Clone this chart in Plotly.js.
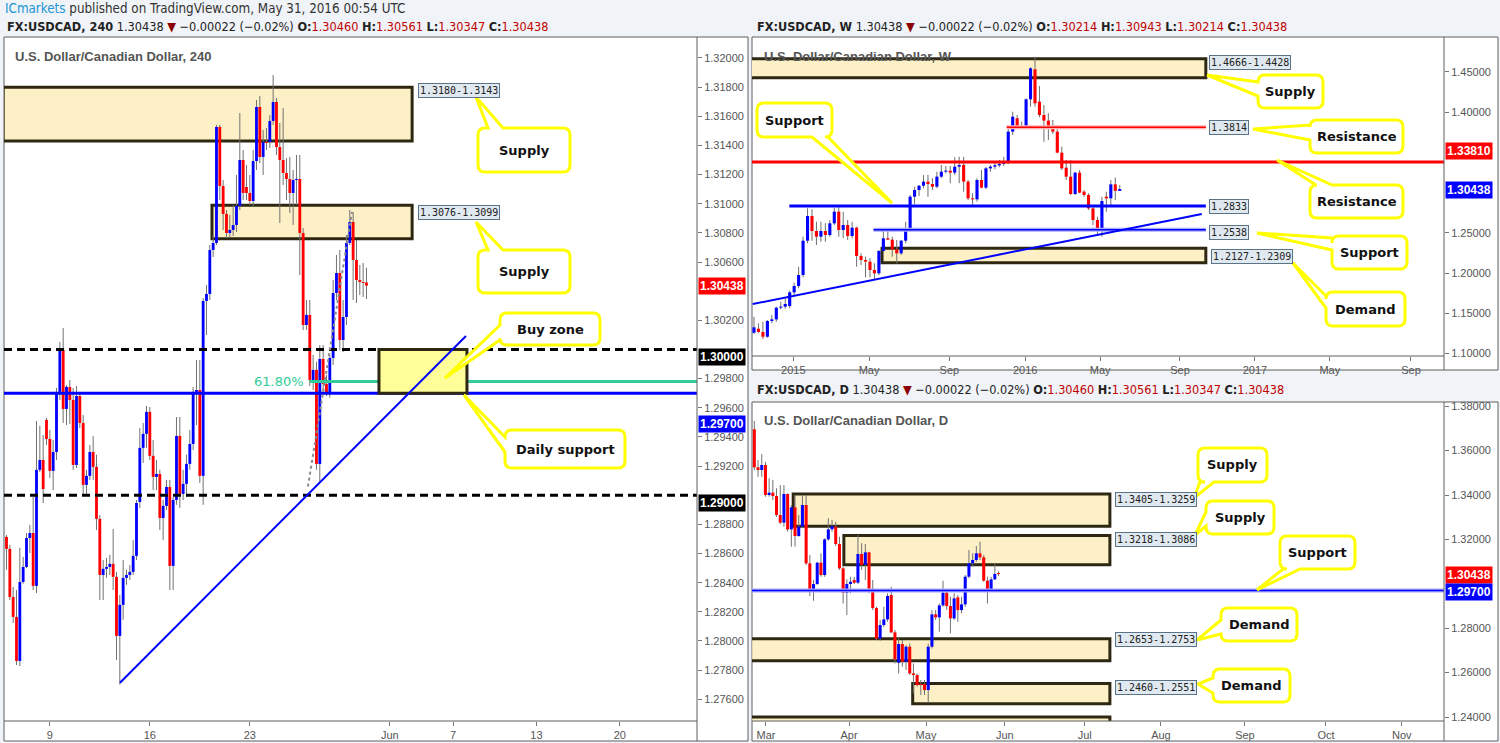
<!DOCTYPE html>
<html><head><meta charset="utf-8">
<script src="https://cdn.plot.ly/plotly-3.0.1.min.js"></script>
<style>html,body{margin:0;padding:0;background:#f0f3f7;}#chart{width:1500px;height:743px;}</style>
</head><body><div id="chart"></div>
<script>
// ---------- 4H (240) USDCAD candles ----------
const h4Open=[1.28714,1.28632,1.28302,1.28165,1.27863,1.28405,1.28508,1.28707,1.28741,1.28378,1.29174,1.29242,1.29517,1.29386,1.29167,1.29297,1.29709,1.29997,1.29592,1.29743,1.29654,1.29208,1.29681,1.29496,1.29071,1.29133,1.29297,1.29194,1.28838,1.28453,1.28495,1.28508,1.28529,1.28440,1.28035,1.28248,1.28433,1.28453,1.28474,1.28584,1.28954,1.29325,1.29421,1.29572,1.29270,1.29126,1.29146,1.28844,1.28927,1.29057,1.28515,1.28968,1.29407,1.29009,1.29078,1.29215,1.29352,1.29709,1.29722,1.29133,1.30333,1.30381,1.30683,1.30731,1.31527,1.31122,1.30930,1.30799,1.30820,1.30854,1.30985,1.31300,1.31115,1.31074,1.31019,1.31293,1.31664,1.31321,1.31424,1.31424,1.31568,1.31698,1.31389,1.31300,1.31211,1.31170,1.31074,1.31163,1.31170,1.30799,1.30168,1.30237,1.29791,1.29860,1.29215,1.29935,1.29764,1.29702,1.29942,1.30388,1.30525,1.30065,1.30223,1.30731,1.30875,1.30614,1.30477,1.30463,1.30460];
const h4High=[1.28728,1.28659,1.28371,1.28350,1.28639,1.28577,1.28741,1.28796,1.28988,1.29510,1.29476,1.29414,1.29530,1.29448,1.29379,1.29736,1.30052,1.30148,1.29757,1.29791,1.29736,1.29750,1.29700,1.29551,1.29174,1.29345,1.29407,1.29277,1.28865,1.28556,1.28570,1.28591,1.28769,1.28474,1.28316,1.28556,1.28488,1.28522,1.28693,1.28968,1.29462,1.29496,1.29613,1.29606,1.29379,1.29242,1.29174,1.28968,1.29105,1.29105,1.28988,1.29537,1.29537,1.29174,1.29277,1.29448,1.29743,1.29928,1.29928,1.30354,1.30443,1.30717,1.30786,1.31540,1.31540,1.31163,1.30957,1.30923,1.30992,1.31197,1.31623,1.31369,1.31266,1.31197,1.31369,1.31712,1.31739,1.31506,1.31520,1.31609,1.31883,1.31726,1.31554,1.31657,1.31314,1.31321,1.31232,1.31335,1.31335,1.30834,1.30340,1.30340,1.29963,1.29915,1.30031,1.30031,1.29825,1.29963,1.30477,1.30649,1.30683,1.30340,1.30786,1.30957,1.30944,1.30751,1.30580,1.30594,1.30561];
const h4Low=[1.28488,1.28282,1.28124,1.27836,1.27829,1.28392,1.28501,1.28604,1.28350,1.28330,1.29160,1.28947,1.29345,1.29119,1.29036,1.29242,1.29654,1.29496,1.29482,1.29489,1.29174,1.29187,1.29462,1.29002,1.28995,1.29105,1.29105,1.28762,1.28282,1.28282,1.28433,1.28453,1.28350,1.27870,1.27699,1.28145,1.28385,1.28419,1.28453,1.28556,1.28913,1.29222,1.29325,1.29242,1.29036,1.29036,1.28762,1.28693,1.28899,1.28350,1.28350,1.28934,1.28913,1.28968,1.28988,1.29174,1.29311,1.29482,1.29084,1.28934,1.30100,1.30340,1.30635,1.30717,1.31026,1.30820,1.30765,1.30765,1.30779,1.30806,1.30957,1.31026,1.31026,1.30992,1.30985,1.31232,1.31280,1.31197,1.31369,1.31383,1.31540,1.31335,1.30868,1.31129,1.31026,1.30937,1.30854,1.30992,1.30511,1.30134,1.30134,1.29750,1.29722,1.29174,1.29091,1.29688,1.29681,1.29668,1.29894,1.30340,1.29997,1.29983,1.30168,1.30717,1.30340,1.30319,1.30374,1.30360,1.30347];
const h4Close=[1.28632,1.28302,1.28165,1.27863,1.28405,1.28508,1.28707,1.28741,1.28378,1.29174,1.29242,1.29043,1.29386,1.29167,1.29297,1.29709,1.29997,1.29592,1.29743,1.29654,1.29208,1.29681,1.29496,1.29071,1.29133,1.29297,1.29194,1.28838,1.28453,1.28495,1.28508,1.28529,1.28440,1.28035,1.28248,1.28433,1.28453,1.28474,1.28584,1.28947,1.29325,1.29421,1.29572,1.29270,1.29126,1.29146,1.28844,1.28927,1.29057,1.28515,1.28968,1.29407,1.29009,1.29078,1.29215,1.29352,1.29709,1.29722,1.29133,1.30333,1.30381,1.30683,1.30731,1.31527,1.31122,1.30930,1.30799,1.30820,1.30854,1.30985,1.31300,1.31074,1.31074,1.31019,1.31293,1.31664,1.31321,1.31424,1.31417,1.31568,1.31698,1.31389,1.31300,1.31211,1.31170,1.31074,1.31163,1.31170,1.30799,1.30168,1.30237,1.29791,1.29860,1.29215,1.29935,1.29764,1.29702,1.29942,1.30388,1.30525,1.30065,1.30223,1.30731,1.30875,1.30614,1.30477,1.30463,1.30456,1.30438];
const h4TickText=['9','16','23','Jun','7','13','20'];
const h4TickBar=[13,43,73,115,134,159,184];
const h4Supply1=[1.3143,1.3180], h4Supply2=[1.3076,1.3099], h4BuyZone=[1.2970,1.3000];
const h4Psych=[1.3000,1.2900], h4DailySupport=1.2970;
const h4Trend=[1.27713,1.30093];          // trend line start/end price
const h4FibLeg=[1.2906,1.30944];          // swing low / swing high
const fibRatio=0.618;

// ---------- Weekly candles ----------
const wOpen=[1.12578,1.13076,1.12661,1.12080,1.14029,1.14236,1.15687,1.15812,1.15895,1.17595,1.18383,1.19751,1.24021,1.27089,1.25224,1.24519,1.25224,1.24726,1.26177,1.27628,1.25348,1.25970,1.24602,1.25638,1.22114,1.21617,1.21409,1.20373,1.19958,1.22736,1.24312,1.24150,1.22943,1.22446,1.24021,1.25555,1.29494,1.30323,1.30862,1.31360,1.31069,1.30738,1.31982,1.32604,1.32728,1.32479,1.33225,1.33433,1.31360,1.29287,1.29162,1.31567,1.30614,1.33018,1.33225,1.33391,1.33557,1.33723,1.37579,1.39237,1.38283,1.38118,1.41600,1.45332,1.41310,1.39652,1.38947,1.38283,1.37579,1.34967,1.33101,1.31982,1.29826,1.32479,1.30116,1.29701,1.28043,1.26592,1.25431,1.29494,1.29287,1.31028,1.30214];
const wHigh=[1.14568,1.13739,1.13946,1.14153,1.14775,1.15812,1.16434,1.16849,1.17802,1.18797,1.20787,1.24519,1.28043,1.27918,1.26385,1.26385,1.26177,1.26592,1.28126,1.28333,1.27628,1.26592,1.26385,1.25763,1.22446,1.22031,1.21824,1.21202,1.22860,1.25431,1.25431,1.24519,1.24104,1.24104,1.26385,1.29701,1.30738,1.30945,1.32189,1.32189,1.31774,1.32604,1.33433,1.33308,1.33308,1.34386,1.34469,1.34469,1.31567,1.29909,1.31774,1.32811,1.33225,1.33433,1.33723,1.34055,1.34469,1.38118,1.40066,1.39652,1.38822,1.41725,1.45580,1.46907,1.43259,1.40895,1.39859,1.39030,1.38408,1.35713,1.34055,1.34055,1.32604,1.32811,1.30323,1.29909,1.28457,1.27006,1.29494,1.30116,1.31567,1.31880,1.30943];
const wLow=[1.12412,1.12495,1.11790,1.11956,1.13739,1.13946,1.15480,1.15563,1.15604,1.17263,1.18093,1.19460,1.23690,1.24021,1.23482,1.23897,1.23897,1.24519,1.25970,1.24519,1.24312,1.24104,1.24312,1.20787,1.20995,1.19460,1.19460,1.19212,1.19751,1.22446,1.24104,1.22031,1.21202,1.22239,1.23690,1.25348,1.28582,1.29577,1.30530,1.29494,1.30323,1.30530,1.31774,1.32396,1.31153,1.32189,1.31153,1.30116,1.29079,1.28333,1.28872,1.30530,1.30447,1.32604,1.32894,1.33142,1.33308,1.33557,1.37164,1.38118,1.37993,1.37993,1.40688,1.40688,1.39361,1.36335,1.36542,1.37288,1.34884,1.32811,1.31567,1.29701,1.29701,1.29909,1.29494,1.27835,1.25970,1.24726,1.24519,1.27628,1.28457,1.29079,1.30214];
const wClose=[1.13242,1.12661,1.12080,1.14029,1.14236,1.15687,1.15812,1.16144,1.17595,1.18383,1.19751,1.24021,1.27089,1.25224,1.24519,1.25224,1.24726,1.26177,1.27628,1.25348,1.25970,1.24602,1.25638,1.22114,1.21617,1.21409,1.20373,1.19958,1.22736,1.24312,1.24150,1.22943,1.22446,1.24021,1.25555,1.29494,1.30323,1.30862,1.31360,1.31069,1.30738,1.31982,1.32604,1.32728,1.32479,1.33225,1.33433,1.31360,1.29287,1.29162,1.31567,1.30614,1.33018,1.33225,1.33391,1.33557,1.33723,1.37579,1.39444,1.38283,1.38118,1.41600,1.45456,1.41103,1.39652,1.38947,1.38283,1.37579,1.34967,1.33018,1.31982,1.29826,1.32479,1.29991,1.29701,1.28043,1.26592,1.25431,1.28955,1.29287,1.31028,1.30214,1.30438];
const wTickText=['2015','May','Sep','2016','May','Sep','2017','May','Sep'];
const wTickBar=[8.82,25.8,43.8,60.8,77.6,95.5,112.3,129.1,147.3];
const wSupply=[1.4428,1.4666], wDemand=[1.2127,1.2309];
const wResistance1=1.3814, wResistance2=1.3381, wSupport1=1.2833, wSupport2=1.2538;
const wTrend=[1.1614,1.2734];

// ---------- Daily candles ----------
const dOpen=[1.36959,1.35247,1.35127,1.35352,1.34000,1.34105,1.33955,1.33099,1.32753,1.34045,1.32453,1.33444,1.32153,1.32573,1.33549,1.30921,1.29689,1.29990,1.30951,1.30395,1.32002,1.32453,1.32573,1.31792,1.30696,1.29599,1.29990,1.30170,1.30050,1.31342,1.30846,1.31417,1.29779,1.28908,1.27527,1.28142,1.28398,1.29494,1.27812,1.26445,1.27286,1.26490,1.27166,1.25964,1.25889,1.25484,1.25484,1.25213,1.27166,1.28623,1.28488,1.29028,1.29599,1.28998,1.28443,1.29389,1.28818,1.29073,1.30320,1.30921,1.31071,1.31372,1.31191,1.30140,1.29719,1.30200,1.30460];
const dHigh=[1.37334,1.35577,1.35847,1.35502,1.34751,1.34676,1.34300,1.34451,1.34451,1.34075,1.33549,1.34000,1.33099,1.34000,1.34000,1.31296,1.30170,1.30996,1.31372,1.32047,1.32949,1.32874,1.32798,1.32123,1.30771,1.30200,1.30320,1.30320,1.32198,1.31822,1.31792,1.31447,1.30170,1.28968,1.28368,1.28968,1.29569,1.29870,1.27917,1.27542,1.27467,1.27241,1.27316,1.26415,1.25964,1.25664,1.25664,1.27316,1.28818,1.28818,1.29118,1.30140,1.29719,1.29419,1.29569,1.29494,1.29419,1.30395,1.31522,1.31372,1.31702,1.31897,1.31296,1.30320,1.30320,1.30921,1.30561];
const dLow=[1.35127,1.34826,1.34826,1.33925,1.33925,1.33775,1.33024,1.32693,1.32573,1.32348,1.31672,1.31672,1.32123,1.32498,1.30846,1.29449,1.29239,1.29945,1.30320,1.30320,1.31942,1.32348,1.31702,1.30620,1.29118,1.28593,1.29569,1.29990,1.29990,1.30620,1.30170,1.29569,1.28818,1.27467,1.27436,1.28067,1.28292,1.27767,1.26415,1.25964,1.26265,1.26115,1.25889,1.25063,1.25364,1.24988,1.24988,1.24642,1.27091,1.28368,1.27842,1.28968,1.28818,1.27767,1.28368,1.28292,1.28668,1.28968,1.30245,1.30771,1.30996,1.31071,1.30095,1.29118,1.29689,1.30170,1.30347];
const dClose=[1.35247,1.35127,1.35352,1.34000,1.34105,1.33955,1.33099,1.32753,1.34045,1.32453,1.33444,1.32153,1.32573,1.33549,1.30921,1.29689,1.29990,1.30951,1.30395,1.32002,1.32453,1.32603,1.31792,1.30696,1.29599,1.29990,1.30095,1.30050,1.31342,1.30846,1.31417,1.29779,1.28908,1.27527,1.28142,1.28398,1.29449,1.27812,1.26595,1.27286,1.26490,1.27166,1.25964,1.25889,1.25439,1.25439,1.25213,1.27166,1.28623,1.28488,1.29028,1.29599,1.28998,1.28443,1.29344,1.28818,1.29073,1.30320,1.30921,1.31071,1.31372,1.31191,1.30140,1.29719,1.30200,1.30440,1.30438];
const dTickText=['Mar','Apr','May','Jun','Jul','Aug','Sep','Oct','Nov'];
const dTickBar=[3.15,25.6,46.4,67.7,89.3,109.9,132.6,154.5,175.0];
const dSupply1=[1.3259,1.3405], dSupply2=[1.3086,1.3218], dDemand1=[1.2653,1.2753], dDemand2=[1.2460,1.2551], dDemand3=[1.2300,1.2400];
const dSupport=1.2970;
const lastPrice=1.30438;

// ---------- drawing ----------
const W=1500,H=743;
const P=x=>x/W, Q=y=>1-y/H;
const BASE='Liberation Sans, Arial, sans-serif';

function candles(o,h,l,c,xa,ya,bw,ww,minH){
  const idx=o.map((_,i)=>i);
  const up=idx.filter(i=>c[i]>=o[i]), dn=idx.filter(i=>c[i]<o[i]);
  const body=(ids,col)=>({type:'bar',x:ids,base:ids.map(i=>Math.min(o[i],c[i])),
    y:ids.map(i=>Math.max(Math.abs(c[i]-o[i]),minH)),width:bw,
    marker:{color:col,line:{width:0}},xaxis:xa,yaxis:ya,hoverinfo:'skip'});
  return [{type:'bar',x:idx,base:l,y:idx.map(i=>h[i]-l[i]),width:ww,
    marker:{color:'#727272',line:{width:0}},xaxis:xa,yaxis:ya,hoverinfo:'skip'},
    body(up,'#0000ff'),body(dn,'#ff0000')];
}
const data=[].concat(
  candles(h4Open,h4High,h4Low,h4Close,'x','y',0.85,0.3,0.00007),
  candles(wOpen,wHigh,wLow,wClose,'x2','y2',0.7,0.23,0.0013),
  candles(dOpen,dHigh,dLow,dClose,'x3','y3',0.82,0.27,0.00045)
);

// price-axis ticks (values hidden behind price tags are left out, as in the reference)
function priceTicks(lo,hi,step,hidden){const v=[];for(let k=0;lo+k*step<=hi+1e-9;k++){const p=+(lo+k*step).toFixed(5);if(!hidden.some(h=>Math.abs(h-p)<1e-7))v.push(p);}return v;}
const axFont={family:BASE,size:11,color:'#555'};
function xax(domain,range,tv,tt,anchor){return {domain,range,tickvals:tv,ticktext:tt,showgrid:false,zeroline:false,showline:false,ticks:'outside',ticklen:4,tickcolor:'#777',tickfont:axFont,anchor,fixedrange:true};}
function yax(domain,range,tv,anchor){return {domain,range,tickmode:'array',tickvals:tv,ticktext:tv.map(v=>v.toFixed(5)),side:'right',showgrid:false,zeroline:false,showline:false,ticks:'outside',ticklen:4,tickcolor:'#777',tickfont:axFont,anchor,fixedrange:true};}

const shapes=[];
const frame='#5f5f5f';
function prect(x0,y0,x1,y1,fill,lc,lw){shapes.push({type:'rect',xref:'paper',yref:'paper',x0:P(x0),x1:P(x1),y0:Q(y1),y1:Q(y0),fillcolor:fill,line:{color:lc,width:lw},layer:'below'});}
function pline(x0,y0,x1,y1,col,w,layer){shapes.push({type:'line',xref:'paper',yref:'paper',x0:P(x0),x1:P(x1),y0:Q(y0),y1:Q(y1),line:{color:col,width:w},layer:layer||'above'});}
prect(4,37,748,741,'#ffffff',frame,1);
prect(752,37,1498,370,'#ffffff',frame,1);
prect(752,402,1498,741,'#ffffff',frame,1);

function zone(xa,ya,x0,x1,pr,fill){shapes.push({type:'rect',xref:xa,yref:ya,x0,x1,y0:pr[0],y1:pr[1],fillcolor:fill,line:{color:'#2e2812',width:3},layer:'below'});}
function hline(xa,ya,x0,x1,p,col,w,dash,layer){shapes.push({type:'line',xref:xa,yref:ya,x0,x1,y0:p,y1:p,line:{color:col,width:w,dash:dash||'solid'},layer:layer||'above'});}
function seg(xa,ya,x0,p0,x1,p1,col,w,dash){shapes.push({type:'line',xref:xa,yref:ya,x0,x1,y0:p0,y1:p1,line:{color:col,width:w,dash:dash||'solid'},layer:'above'});}

const ZFILL='#fdf0c6';
// 4H panel
zone('x','y',-1,121.7,h4Supply1,ZFILL);
zone('x','y',61.65,121.7,h4Supply2,ZFILL);
const fibLevel=h4FibLeg[1]-fibRatio*(h4FibLeg[1]-h4FibLeg[0]);
hline('x','y',91,210,fibLevel,'#33cc99',3);
hline('x domain','y',0,1,h4Psych[0],'#000',3,'8px,5px');
hline('x domain','y',0,1,h4Psych[1],'#000',3,'8px,5px');
hline('x domain','y',0,1,h4DailySupport,'#0000ff',3);
shapes.push({type:'rect',xref:'x',yref:'y',x0:111.75,x1:138.15,y0:h4BuyZone[0],y1:h4BuyZone[1],fillcolor:'#ffff99',line:{color:'#2e2812',width:3},layer:'above'});
seg('x','y',34.05,h4Trend[0],137.85,h4Trend[1],'#0000ff',2);
seg('x','y',90.45,h4FibLeg[0],103.65,h4FibLeg[1],'#8a8a8a',2,'dot');
// Weekly panel
zone('x2','y2',-1,101.3,wSupply,ZFILL);
zone('x2','y2',28.7,101.3,wDemand,ZFILL);
hline('x2 domain','y2',0,1,wResistance2,'#ff0000',3);
hline('x2','y2',56.65,101.3,wResistance1,'#ffb0b0',4);
hline('x2','y2',56.65,101.3,wResistance1,'#ff0000',1.5);
hline('x2','y2',7.92,101.3,wSupport1,'#0000ff',3);
hline('x2','y2',26.8,101.3,wSupport2,'#a8a8ff',4);
hline('x2','y2',26.8,101.3,wSupport2,'#0000ff',1.5);
seg('x2','y2',-0.3,wTrend[0],100.4,wTrend[1],'#0000ff',2);
// Daily panel
zone('x3','y3',10.5,96.1,dSupply1,ZFILL);
zone('x3','y3',24.2,96.1,dSupply2,ZFILL);
zone('x3','y3',-1,96.1,dDemand1,ZFILL);
zone('x3','y3',42.8,96.1,dDemand2,ZFILL);
zone('x3','y3',-1,96.1,dDemand3,ZFILL);
hline('x3 domain','y3',0,1,dSupport,'#a8a8ff',4);
hline('x3 domain','y3',0,1,dSupport,'#0000ff',1.5);

// panel separators
pline(697,37,697,741,frame,1); pline(4,721,697,721,frame,1);
pline(1444,37,1444,370,frame,1); pline(752,356,1444,356,frame,1);
pline(1444,402,1444,741,frame,1); pline(752,721,1444,721,frame,1);

// callouts (decorations, pixel layout)
function calloutPath(x0,y0,x1,y1,edge,b0,b1,tx,ty){
  const r=7; let d=`M${P(x0+r)},${Q(y0)}`;
  if(edge==='top') d+=` L${P(b0)},${Q(y0)} L${P(tx)},${Q(ty)} L${P(b1)},${Q(y0)}`;
  d+=` L${P(x1-r)},${Q(y0)} Q${P(x1)},${Q(y0)} ${P(x1)},${Q(y0+r)}`;
  if(edge==='right') d+=` L${P(x1)},${Q(b0)} L${P(tx)},${Q(ty)} L${P(x1)},${Q(b1)}`;
  d+=` L${P(x1)},${Q(y1-r)} Q${P(x1)},${Q(y1)} ${P(x1-r)},${Q(y1)}`;
  if(edge==='bottom') d+=` L${P(b1)},${Q(y1)} L${P(tx)},${Q(ty)} L${P(b0)},${Q(y1)}`;
  d+=` L${P(x0+r)},${Q(y1)} Q${P(x0)},${Q(y1)} ${P(x0)},${Q(y1-r)}`;
  if(edge==='left') d+=` L${P(x0)},${Q(b1)} L${P(tx)},${Q(ty)} L${P(x0)},${Q(b0)}`;
  d+=` L${P(x0)},${Q(y0+r)} Q${P(x0)},${Q(y0)} ${P(x0+r)},${Q(y0)} Z`;
  return d;
}
const callouts=[
  ['Supply',478,128,570,172,'top',488,503,476,97],
  ['Supply',478,250,570,293,'top',488,503,476,222],
  ['Buy zone',500,313,600,345,'left',325,340,445,378],
  ['Daily support',505,430,625,468,'left',437,452,464,395],
  ['Support',757,103,832,137,'bottom',812,828,892,203],
  ['Supply',1258,75,1323,108,'left',82,96,1207,75],
  ['Resistance',1310,120,1403,153,'left',125,140,1253,129],
  ['Resistance',1310,185,1403,218,'top',1316,1332,1277,160],
  ['Support',1332,236,1407,269,'left',238,250,1257,233],
  ['Demand',1326,292,1405,326,'left',296,308,1293,263],
  ['Supply',1198,448,1267,482,'bottom',1200,1214,1194,498],
  ['Supply',1206,501,1274,534,'left',512,526,1195,535],
  ['Support',1280,536,1355,569,'bottom',1283,1300,1257,590],
  ['Demand',1221,608,1297,641,'left',620,634,1197,640],
  ['Demand',1213,669,1290,702,'left',678,693,1198,684]
];
const annotations=[];
callouts.forEach(c=>{
  shapes.push({type:'path',xref:'paper',yref:'paper',path:calloutPath(c[1],c[2],c[3],c[4],c[5],c[6],c[7],c[8],c[9]),fillcolor:'#ffffff',line:{color:'#ffff00',width:3},layer:'above'});
  annotations.push({xref:'paper',yref:'paper',x:P((c[1]+c[3])/2),y:Q((c[2]+c[4])/2),text:`<b>${c[0]}</b>`,showarrow:false,font:{family:'DejaVu Sans, Verdana, sans-serif',size:13,color:'#111'},xanchor:'center',yanchor:'middle'});
});

function zoneLabel(xa,ya,x,p,text,xs,ys){annotations.push({xref:xa,yref:ya,x,y:p,xanchor:'left',yanchor:'middle',text,showarrow:false,bgcolor:'#e1e9f0',bordercolor:'#5b7387',borderwidth:1,borderpad:1,font:{family:'DejaVu Sans Mono, monospace',size:10,color:'#222'},xshift:xs,yshift:ys});}
zoneLabel('x','y',121.7,h4Supply1[1],'1.3180-1.3143',6,-3);
zoneLabel('x','y',121.7,h4Supply2[1],'1.3076-1.3099',6,-7);
zoneLabel('x2','y2',101.3,wSupply[1],'1.4666-1.4428',3,-4);
zoneLabel('x2','y2',101.3,wResistance1,'1.3814',3,0);
zoneLabel('x2','y2',101.3,wSupport1,'1.2833',3,0);
zoneLabel('x2','y2',101.3,wSupport2,'1.2538',3,-3);
zoneLabel('x2','y2',101.6,wDemand[1],'1.2127-1.2309',4,-8);
zoneLabel('x3','y3',96.1,dSupply1[1],'1.3405-1.3259',5,-6);
zoneLabel('x3','y3',96.1,dSupply2[1],'1.3218-1.3086',5,-4);
zoneLabel('x3','y3',96.1,dDemand1[1],'1.2653-1.2753',5,-1);
zoneLabel('x3','y3',96.1,dDemand2[1],'1.2460-1.2551',5,-4);

annotations.push({xref:'x',yref:'y',x:91,y:fibLevel,xanchor:'right',yanchor:'middle',xshift:-4,text:(fibRatio*100).toFixed(2)+'%',showarrow:false,font:{family:'DejaVu Sans, Verdana, sans-serif',size:13,color:'#33cc99'}});

function tag(x,y,text,bg){annotations.push({xref:'paper',yref:'paper',x:P(x),y:Q(y),xanchor:'left',yanchor:'middle',text:`<b>${text}</b>`,showarrow:false,bgcolor:bg,borderpad:1,font:{family:BASE,size:12,color:'#fff'}});}
tag(698,286,lastPrice.toFixed(5),'#ff0000');
tag(698,357,h4Psych[0].toFixed(5),'#000000');
tag(698,424,h4DailySupport.toFixed(5),'#0000ff');
tag(698,503,h4Psych[1].toFixed(5),'#000000');
tag(1445,151,wResistance2.toFixed(5),'#ff0000');
tag(1445,190,lastPrice.toFixed(5),'#0000ff');
tag(1445,575,lastPrice.toFixed(5),'#ff0000');
tag(1445,592,dSupport.toFixed(5),'#0000ff');

function txt(x,y,text,size,color,fam){annotations.push({xref:'paper',yref:'paper',x:P(x),y:Q(y),xanchor:'left',yanchor:'middle',text,showarrow:false,font:{family:fam||BASE,size,color}});}
const HF='Liberation Sans Narrow, DejaVu Sans Condensed, Arial Narrow, sans-serif';
txt(3,9,'<span style="color:#2196d3">ICmarkets</span> published on TradingView.com, May 31, 2016 00:54 UTC',13.3,'#333',HF);
const R=v=>`<span style="color:#c00000">${v}</span>`;
const hdr=(tf,o,h,l,c)=>`<b>FX:USDCAD, ${tf}</b> 1.30438 <span style="color:#8b0000">▼</span> −0.00022 (−0.02%) <b>O:</b>${R(o)} <b>H:</b>${R(h)} <b>L:</b>${R(l)} <b>C:</b>${R(c)}`;
txt(5,26,hdr('240','1.30460','1.30561','1.30347','1.30438'),12.6,'#222',HF);
txt(755,26,hdr('W','1.30214','1.30943','1.30214','1.30438'),12.6,'#222',HF);
txt(755,389,hdr('D','1.30460','1.30561','1.30347','1.30438'),12.6,'#222',HF);
txt(13,56,'<b>U.S. Dollar/Canadian Dollar, 240</b>',13,'#555');
txt(762,56,'<b>U.S. Dollar/Canadian Dollar, W</b>',13,'#555');
txt(762,420,'<b>U.S. Dollar/Canadian Dollar, D</b>',13,'#555');

const layout={
  width:W,height:H,margin:{l:0,r:0,t:0,b:0},paper_bgcolor:'#f0f3f7',plot_bgcolor:'rgba(0,0,0,0)',
  showlegend:false,barmode:'overlay',font:{family:BASE},
  xaxis:xax([4/W,697/W],[-0.75,207.17],h4TickBar,h4TickText,'y'),
  yaxis:yax([1-721/H,1-37/H],[1.27451,1.32144],priceTicks(1.276,1.320,0.002,[1.304,1.300,1.290]),'x'),
  xaxis2:xax([752/W,1444/W],[-0.45,154.7],wTickBar,wTickText,'y2'),
  yaxis2:yax([1-356/H,1-37/H],[1.0968,1.4935],priceTicks(1.10,1.45,0.05,[1.35,1.30]),'x2'),
  xaxis3:xax([752/W,1444/W],[-0.63,186.4],dTickBar,dTickText,'y3'),
  yaxis3:yax([1-721/H,1-403/H],[1.2382,1.38144],priceTicks(1.24,1.38,0.02,[1.30]),'x3'),
  shapes,annotations
};
Plotly.newPlot('chart',data,layout,{displayModeBar:false,staticPlot:true});
</script></body></html>
